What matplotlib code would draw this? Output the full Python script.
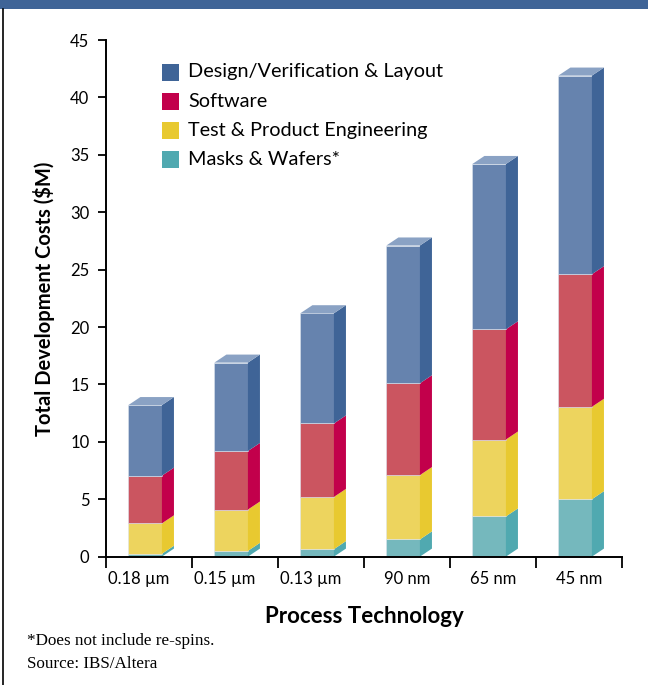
import matplotlib.pyplot as plt
from matplotlib.patches import Rectangle, Polygon
from matplotlib.lines import Line2D
from matplotlib.transforms import ScaledTranslation
import numpy as np

nodes = ["0.18 µm", "0.15 µm", "0.13 µm", "90 nm", "65 nm", "45 nm"]
masks = [0.25, 0.5, 0.65, 1.5, 3.5, 5.0]
test = [2.65, 3.6, 4.55, 5.6, 6.7, 8.05]
software = [4.15, 5.1, 6.4, 8.0, 9.6, 11.55]
design = [6.15, 7.7, 9.6, 12.0, 14.4, 17.3]

series = [
    ("Masks & Wafers*", masks, "#75b8bd", "#50a9b0"),
    ("Test & Product Engineering", test, "#edd45e", "#e8c930"),
    ("Software", software, "#cb5560", "#c2004b"),
    ("Design/Verification & Layout", design, "#6683ae", "#3f6497"),
]
top_color = "#8aa2c4"

plt.rcParams["font.family"] = ["Lato", "DejaVu Sans"]

fig = plt.figure(figsize=(6.48, 6.85), dpi=100)
ax = fig.add_axes([0.1636, 0.1874, 0.7963, 0.7542])

x = np.arange(len(nodes))
w = 0.39      # front face width
off = -0.24   # front face left edge relative to category centre
dx = 0.14     # depth to the right
dy = 0.7      # depth upwards, in $M

bottom = np.zeros(len(nodes))
for name, vals, front, side in series:
    vals = np.array(vals)
    ax.bar(x + off, vals, w, bottom=bottom, align="edge", color=front,
           edgecolor="#dde4ee", linewidth=0.4, zorder=2)
    for xi, b, v in zip(x, bottom, vals):
        x1 = xi + off + w
        ax.add_patch(Polygon([(x1, b), (x1 + dx, b + dy), (x1 + dx, b + v + dy), (x1, b + v)],
                             closed=True, facecolor=side, edgecolor="none", zorder=2))
    bottom = bottom + vals

# lit top faces
for xi, t in zip(x, bottom):
    x0 = xi + off
    ax.add_patch(Polygon([(x0, t), (x0 + dx, t + dy), (x0 + w + dx, t + dy), (x0 + w, t)],
                         closed=True, facecolor=top_color, edgecolor="none", zorder=3))

ax.set_xlim(-0.5, 5.5)
ax.set_ylim(0, 45)
ax.set_yticks(range(0, 46, 5))
ax.set_xticks(x)
ax.set_xticklabels(nodes)
ax.set_xticks(np.arange(-0.5, 6, 1), minor=True)
ax.tick_params(axis="x", which="major", length=0, labelsize=12, pad=10)
ax.tick_params(axis="x", which="minor", length=8, width=1.3, direction="out")
ax.tick_params(axis="y", length=6, width=1.3, labelsize=12, pad=6)
# the micron labels sit a little left of centre
for lbl in ax.get_xticklabels()[:3]:
    lbl.set_transform(lbl.get_transform() + ScaledTranslation(-0.1, 0, fig.dpi_scale_trans))
for s in ["top", "right"]:
    ax.spines[s].set_visible(False)
for s in ["left", "bottom"]:
    ax.spines[s].set_linewidth(1.4)

ax.set_ylabel("Total Development Costs ($M)", fontsize=14.5, fontweight="bold", labelpad=11)
ax.set_xlabel("Process Technology", fontsize=16, fontweight="bold", labelpad=14)

# legend, top item first
for i, (name, vals, front, side) in enumerate(reversed(series)):
    yc = 1 - (72 + 29.2 * i) / 685
    fig.add_artist(Rectangle((162 / 648, yc - 8.5 / 685), 17 / 648, 17 / 685,
                             transform=fig.transFigure, facecolor=side, edgecolor="none"))
    fig.text(188 / 648, yc, name, fontsize=14.3, va="center", ha="left")

# header band and left frame line
fig.add_artist(Rectangle((0, 1 - 9 / 685), 1, 9 / 685, transform=fig.transFigure,
                         facecolor="#3f6497", edgecolor="none"))
fig.add_artist(Line2D([2.5 / 648, 2.5 / 648], [0, 1 - 9 / 685], transform=fig.transFigure,
                      color="black", linewidth=1.2))

fig.text(27 / 648, 1 - 641 / 685, "*Does not include re-spins.", family="Liberation Serif",
         fontsize=12.3, va="center")
fig.text(27 / 648, 1 - 664 / 685, "Source: IBS/Altera", family="Liberation Serif",
         fontsize=12.3, va="center")

fig.savefig("out.png", dpi=100)
